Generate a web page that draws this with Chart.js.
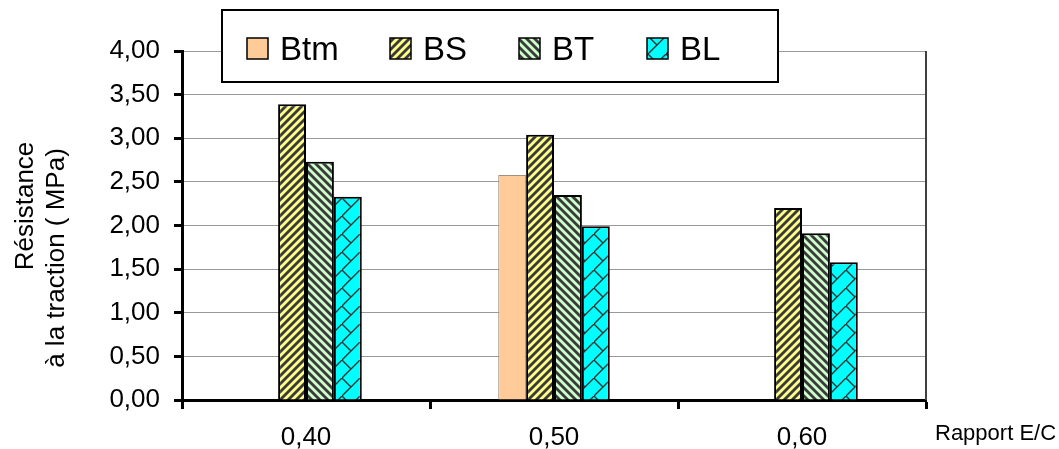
<!DOCTYPE html>
<html>
<head>
<meta charset="utf-8">
<script src="https://cdn.jsdelivr.net/npm/chart.js@4/dist/chart.umd.min.js"></script>
<style>
  body { margin: 0; background: #fff; }
  #caixa { width: 1059px; height: 449px; }
</style>
</head>
<body>
<div id="caixa"><canvas id="resistencia-tracao" width="1059" height="449"></canvas></div>
<script>
// Dados
var categorias = ['0,40', '0,50', '0,60'];
var nomesSeries = ['Btm', 'BS', 'BT', 'BL'];
var valoresBtm = [null, 2.58, null];
var valoresBS = [3.39, 3.04, 2.20];
var valoresBT = [2.73, 2.35, 1.91];
var valoresBL = [2.33, 1.99, 1.58];
var eixoYMin = 0;
var eixoYMax = 4;
var eixoYPasso = 0.5;
var tituloY = ['Résistance', 'à la traction ( MPa)'];
var tituloX = 'Rapport E/C';

var fonte = '"Liberation Sans", Arial, sans-serif';

// Cria uma textura de listras diagonais
function listras(fundo, cor, sentido) {
    var t = 8;
    var c = document.createElement('canvas');
    c.width = t; c.height = t;
    var g = c.getContext('2d');
    g.fillStyle = fundo;
    g.fillRect(0, 0, t, t);
    g.strokeStyle = cor;
    g.lineWidth = 2.8;
    for (var k = -1; k <= 1; k++) {
        g.beginPath();
        if (sentido > 0) {
            g.moveTo(k * t - 1, t + 1);
            g.lineTo(k * t + t + 1, -1);
        } else {
            g.moveTo(k * t - 1, -1);
            g.lineTo(k * t + t + 1, t + 1);
        }
        g.stroke();
    }
    return g.createPattern(c, 'repeat');
}

// Textura tipo "tijolo diagonal" para BL
function tijolo(fundo, cor) {
    var t = 18;
    var c = document.createElement('canvas');
    c.width = t; c.height = t;
    var g = c.getContext('2d');
    g.fillStyle = fundo;
    g.fillRect(0, 0, t, t);
    g.strokeStyle = cor;
    g.lineWidth = 1.4;
    g.beginPath();
    g.moveTo(-1, t + 1); g.lineTo(t + 1, -1);
    g.moveTo(0, 0); g.lineTo(t / 2, t / 2);
    g.stroke();
    return g.createPattern(c, 'repeat');
}

var preenchimentos = [
    '#FFCC99',
    listras('#FFFF88', '#3a3a3a', 1),
    listras('#CCFFCC', '#3a3a3a', -1),
    tijolo('#00FFFF', '#333333')
];
var bordas = ['#A09080', '#000000', '#000000', '#000000'];
var larguraBorda = [1, 2, 2, 2];

// Plugin para legenda, títulos e borda direita
var extras = {
    id: 'extras',
    afterDraw: function(chart) {
        var ctx = chart.ctx;
        var area = chart.chartArea;

        // Borda direita da área do gráfico
        ctx.save();
        ctx.strokeStyle = '#404040';
        ctx.lineWidth = 2;
        ctx.beginPath();
        ctx.moveTo(area.right, area.top);
        ctx.lineTo(area.right, area.bottom);
        ctx.stroke();
        ctx.restore();

        // Título do eixo Y (duas linhas)
        ctx.save();
        ctx.fillStyle = '#000';
        ctx.font = '26px ' + fonte;
        ctx.textAlign = 'center';
        ctx.textBaseline = 'alphabetic';
        var linhas = [[33, 206], [64, 258]];
        for (var i = 0; i < tituloY.length; i++) {
            ctx.save();
            ctx.translate(linhas[i][0], linhas[i][1]);
            ctx.rotate(-Math.PI / 2);
            ctx.fillText(tituloY[i], 0, 0);
            ctx.restore();
        }
        ctx.restore();

        // Título do eixo X
        ctx.save();
        ctx.fillStyle = '#000';
        ctx.font = '22px ' + fonte;
        ctx.textAlign = 'left';
        ctx.textBaseline = 'alphabetic';
        ctx.fillText(tituloX, 935, 440);
        ctx.restore();

        // Legenda com caixa
        ctx.save();
        ctx.fillStyle = '#fff';
        ctx.fillRect(222, 10, 556, 72);
        ctx.strokeStyle = '#000';
        ctx.lineWidth = 2;
        ctx.strokeRect(222, 10, 556, 72);
        var xs = [247, 390, 519, 647];
        ctx.font = '33px ' + fonte;
        ctx.textBaseline = 'alphabetic';
        for (var j = 0; j < nomesSeries.length; j++) {
            ctx.fillStyle = preenchimentos[j];
            ctx.fillRect(xs[j], 38, 21, 21);
            ctx.strokeStyle = '#000';
            ctx.lineWidth = 1.5;
            ctx.strokeRect(xs[j], 38, 21, 21);
            ctx.fillStyle = '#000';
            ctx.fillText(nomesSeries[j], xs[j] + 33, 60);
        }
        ctx.restore();
    }
};

var ctx = document.getElementById('resistencia-tracao').getContext('2d');
var valores = [valoresBtm, valoresBS, valoresBT, valoresBL];

var myChart = new Chart(ctx, {
    type: 'bar',
    data: {
        labels: categorias,
        datasets: nomesSeries.map(function(nome, i) {
            return {
                label: nome,
                data: valores[i],
                backgroundColor: preenchimentos[i],
                borderColor: bordas[i],
                borderWidth: larguraBorda[i],
                barPercentage: 1.0,
                categoryPercentage: 0.45
            };
        })
    },
    options: {
        responsive: false,
        animation: false,
        layout: { padding: { left: 0, top: 51, right: 133, bottom: 0 } },
        plugins: {
            legend: { display: false },
            tooltip: { enabled: false }
        },
        scales: {
            x: {
                offset: true,
                grid: {
                    display: true,
                    offset: true,
                    drawOnChartArea: false,
                    drawTicks: true,
                    tickLength: 9,
                    tickColor: '#000',
                    tickWidth: 3
                },
                border: { display: true, color: '#000', width: 3 },
                ticks: {
                    color: '#000',
                    padding: 13,
                    font: { family: fonte, size: 26 }
                },
                afterFit: function(scale) { scale.height = 49; }
            },
            y: {
                min: eixoYMin,
                max: eixoYMax,
                grid: {
                    color: '#999',
                    lineWidth: 1,
                    borderDash: [2, 2],
                    drawTicks: true,
                    tickLength: 8,
                    tickColor: '#000',
                    tickWidth: 3,
                    tickBorderDash: []
                },
                border: { display: true, color: '#000', width: 3 },
                ticks: {
                    stepSize: eixoYPasso,
                    color: '#000',
                    padding: 14,
                    font: { family: fonte, size: 26 },
                    callback: function(v) { return v.toFixed(2).replace('.', ','); }
                },
                afterFit: function(scale) { scale.width = 182; }
            }
        }
    },
    plugins: [extras]
});
</script>
</body>
</html>
